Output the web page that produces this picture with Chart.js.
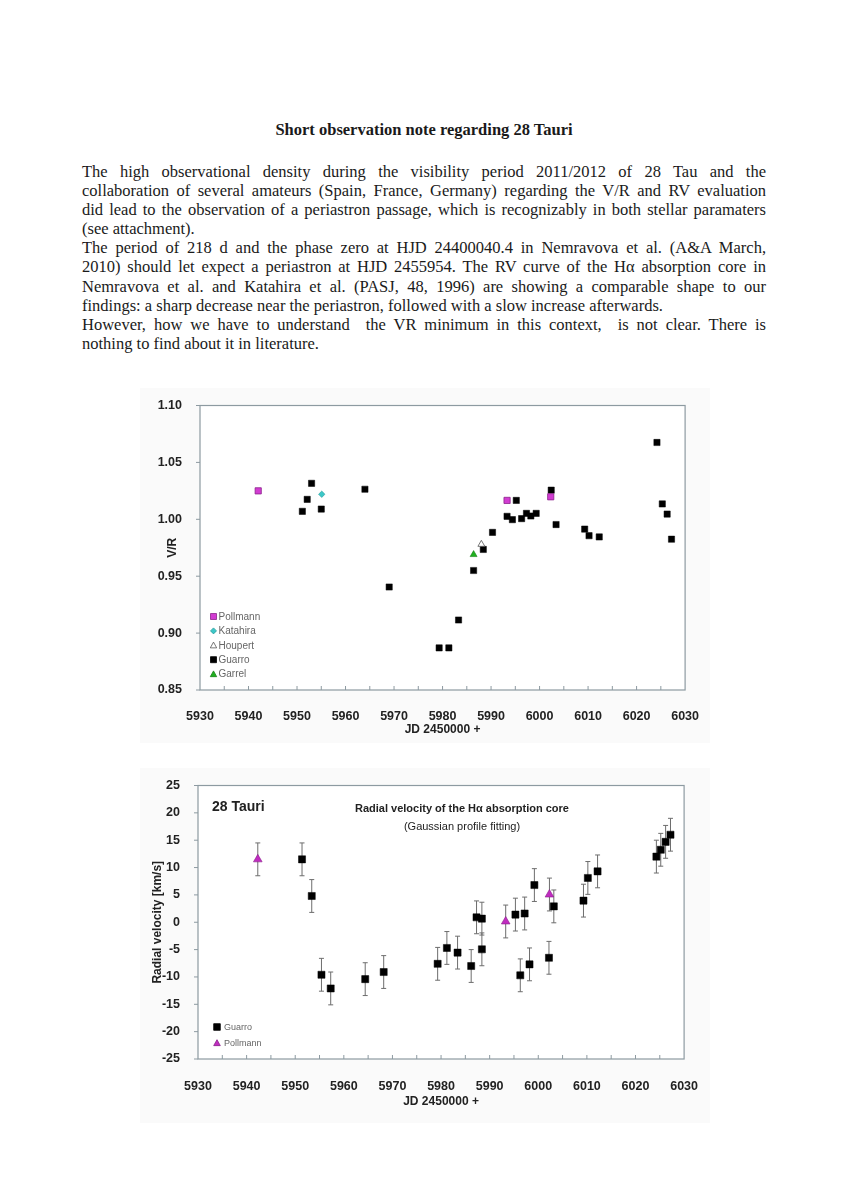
<!DOCTYPE html>
<html>
<head>
<meta charset="utf-8">
<script src="https://cdn.jsdelivr.net/npm/chart.js@4.4.1/dist/chart.umd.min.js"></script>
<style>
  html, body { margin: 0; padding: 0; background: #fff; }
  body { width: 848px; height: 1200px; position: relative; overflow: hidden; }
  #title {
    position: absolute; left: 0; width: 848px; top: 120px;
    text-align: center; font: bold 16.5px "Liberation Serif", serif; color: #1a1a1a;
    line-height: 20px;
  }
  #note {
    position: absolute; left: 82px; width: 684px; top: 162px;
    font: 16.5px "Liberation Serif", serif; color: #1a1a1a; line-height: 19.1px;
  }
  #note .j { text-align: justify; text-align-last: justify; }
  canvas { position: absolute; background: #fafafa; }
  #vr { left: 140px; top: 388px; }
  #rv { left: 140px; top: 768px; }
</style>
</head>
<body>
<div id="title">Short observation note regarding 28 Tauri</div>
<div id="note">
  <div class="j">The high observational density during the visibility period 2011/2012 of 28 Tau and the</div>
  <div class="j">collaboration of several amateurs (Spain, France, Germany) regarding the V/R and RV evaluation</div>
  <div class="j">did lead to the observation of a periastron passage, which is recognizably in both stellar paramaters</div>
  <div>(see attachment).</div>
  <div class="j">The period of 218 d and the phase zero at HJD 24400040.4 in Nemravova et al. (A&amp;A March,</div>
  <div class="j">2010) should let expect a periastron at HJD 2455954. The RV curve of the Hα absorption core in</div>
  <div class="j">Nemravova et al. and Katahira et al. (PASJ, 48, 1996) are showing a comparable shape to our</div>
  <div>findings: a sharp decrease near the periastron, followed with a slow increase afterwards.</div>
  <div class="j">However, how we have to understand &nbsp;the VR minimum in this context, &nbsp;is not clear. There is</div>
  <div>nothing to find about it in literature.</div>
</div>

<canvas id="vr" width="570" height="355"></canvas>
<canvas id="rv" width="570" height="355"></canvas>

<script>
// ---- V/R chart data (JD - 2450000) ----
const vrPollmannJD = [5942.0, 5993.3, 6002.3];
const vrPollmann   = [1.025, 1.0166, 1.0198];
const vrKatahiraJD = [5955.1];
const vrKatahira   = [1.022];
const vrHoupertJD  = [5988.0];
const vrHoupert    = [0.978];
const vrGuarroJD = [5951.1, 5952.1, 5953.0, 5955.0, 5964.0, 5969.0, 5979.3, 5981.3, 5983.3, 5986.4,
                    5988.4, 5990.3, 5993.3, 5994.4, 5995.2, 5996.3, 5997.3, 5998.2, 5999.3, 6002.4,
                    6003.4, 6009.3, 6010.2, 6012.3, 6024.2, 6025.3, 6026.3, 6027.2];
const vrGuarro   = [1.007, 1.0175, 1.0316, 1.009, 1.0264, 0.9405, 0.887, 0.887, 0.9115, 0.955,
                    0.9735, 0.9885, 1.0026, 0.9997, 1.0166, 1.0006, 1.0052, 1.0029, 1.0052, 1.0256,
                    0.9954, 0.9914, 0.9856, 0.9845, 1.0675, 1.0135, 1.0046, 0.9825];
const vrGarrelJD = [5986.4];
const vrGarrel   = [0.969];

// ---- radial velocity chart data (km/s) ----
const rvGuarroJD = [5951.4, 5953.4, 5955.4, 5957.3, 5964.4, 5968.2, 5979.3, 5981.2, 5983.4, 5986.2,
                    5987.3, 5988.4, 5988.4, 5995.3, 5996.3, 5997.2, 5998.2, 5999.2, 6002.2, 6003.2,
                    6009.3, 6010.2, 6012.2, 6024.3, 6025.2, 6026.2, 6027.2];
const rvGuarro   = [11.5, 4.8, -9.6, -12.1, -10.4, -9.1, -7.6, -4.7, -5.55, -8.0,
                    0.9, 0.66, -4.95, 1.4, -9.7, 1.6, -7.7, 6.8, -6.5, 2.9,
                    3.95, 8.1, 9.3, 12.0, 13.25, 14.7, 16.0];
const rvGuarroErr = [3, 3, 3, 3, 3, 3, 3, 3, 3, 3,
                     3, 3, 3, 3, 3, 3, 3, 3, 3, 3,
                     3, 3, 3, 3, 3, 3, 3];
const rvPollmannJD  = [5942.3, 5993.3, 6002.3];
const rvPollmann    = [11.5, 0.14, 5.07];
const rvPollmannErr = [3, 3, 3];

const jdTicks = [5930, 5940, 5950, 5960, 5970, 5980, 5990, 6000, 6010, 6020, 6030];

const FONT = '"Liberation Sans", Arial, sans-serif';
const FRAME = '#8d9aa1';

function pts(xs, ys) {
  return xs.map((x, i) => ({x: x, y: ys[i]}));
}

function marker(ctx, style, x, y, r, fill, stroke) {
  ctx.save();
  ctx.fillStyle = fill;
  ctx.strokeStyle = stroke;
  ctx.lineWidth = 0.8;
  ctx.beginPath();
  if (style === 'rect') {
    ctx.rect(x - r, y - r, 2 * r, 2 * r);
  } else if (style === 'rectRot') {
    ctx.moveTo(x, y - r); ctx.lineTo(x + r, y); ctx.lineTo(x, y + r); ctx.lineTo(x - r, y);
    ctx.closePath();
  } else {
    ctx.moveTo(x, y - r); ctx.lineTo(x + r, y + r * 0.8); ctx.lineTo(x - r, y + r * 0.8);
    ctx.closePath();
  }
  ctx.fill();
  ctx.stroke();
  ctx.restore();
}

// white plot area, frame, tick marks, error bars, legend and notes
const decor = {
  id: 'decor',
  beforeDatasetsDraw(chart) {
    const {ctx, chartArea: a, scales} = chart;
    ctx.save();
    ctx.fillStyle = '#fff';
    ctx.fillRect(a.left, a.top, a.width, a.height);
    ctx.strokeStyle = FRAME;
    ctx.lineWidth = 1.2;
    ctx.strokeRect(a.left, a.top, a.width, a.height);
    ctx.lineWidth = 1;
    ctx.beginPath();
    for (let v = 5935; v < 6030; v += 5) {
      const px = scales.x.getPixelForValue(v);
      ctx.moveTo(px, a.bottom); ctx.lineTo(px, a.bottom - 4);
    }
    scales.y.ticks.forEach(t => {
      const py = scales.y.getPixelForValue(t.value);
      ctx.moveTo(a.left, py); ctx.lineTo(a.left - 4, py);
    });
    ctx.stroke();

    // error bars
    ctx.strokeStyle = '#6d6d6d';
    ctx.lineWidth = 1;
    chart.data.datasets.forEach(ds => {
      if (!ds.errors) return;
      ds.data.forEach((p, i) => {
        const px = scales.x.getPixelForValue(p.x);
        const y1 = scales.y.getPixelForValue(p.y + ds.errors[i]);
        const y2 = scales.y.getPixelForValue(p.y - ds.errors[i]);
        ctx.beginPath();
        ctx.moveTo(px, y1); ctx.lineTo(px, y2);
        ctx.moveTo(px - 2.5, y1); ctx.lineTo(px + 2.5, y1);
        ctx.moveTo(px - 2.5, y2); ctx.lineTo(px + 2.5, y2);
        ctx.stroke();
      });
    });
    ctx.restore();
  },
  afterDatasetsDraw(chart) {
    const {ctx, chartArea: a} = chart;
    const o = chart.options.plugins.decor;
    ctx.save();
    // legend
    ctx.font = o.legendSize + 'px ' + FONT;
    ctx.textBaseline = 'middle';
    chart.data.datasets.forEach((ds, i) => {
      const y = a.bottom - o.legendBottom + i * o.legendStep;
      const x = a.left + o.legendLeft;
      marker(ctx, ds.pointStyle, x, y, ds.legendR, ds.backgroundColor, ds.borderColor);
      ctx.fillStyle = '#666';
      ctx.fillText(ds.label, x + o.legendGap, y + 0.5);
    });
    // notes
    (o.notes || []).forEach(n => {
      ctx.font = n.font;
      ctx.fillStyle = '#222';
      ctx.textAlign = n.align;
      ctx.fillText(n.text, a.left + n.dx, a.top + n.dy);
    });
    ctx.restore();
  }
};

function axes(yMin, yMax, yStep, yTitle, yFmt, dims) {
  return {
    x: {
      type: 'linear', min: 5930, max: 6030,
      afterBuildTicks: s => { s.ticks = jdTicks.map(v => ({value: v})); },
      afterFit: s => { s.height = dims.xh; },
      grid: {display: false},
      border: {display: false},
      ticks: {color: '#222', padding: dims.xpad, maxRotation: 0,
              callback: v => String(v),
              font: {family: FONT, size: 12.5, weight: 'bold'}},
      title: {display: true, text: 'JD 2450000 +', color: '#222',
              padding: {top: 0, bottom: dims.xtb},
              font: {family: FONT, size: 12, weight: 'bold'}}
    },
    y: {
      min: yMin, max: yMax,
      afterFit: s => { s.width = dims.yw; },
      grid: {display: false},
      border: {display: false},
      ticks: {stepSize: yStep, color: '#222', padding: 10,
              callback: yFmt,
              font: {family: FONT, size: 12.5, weight: 'bold'}},
      title: {display: true, text: yTitle, color: '#222',
              padding: {top: dims.ytp, bottom: 0},
              font: {family: FONT, size: 12, weight: 'bold'}}
    }
  };
}

function drawVR() {
  new Chart('vr', {
    type: 'scatter',
    data: {
      datasets: [
        {label: 'Pollmann', data: pts(vrPollmannJD, vrPollmann), pointStyle: 'rect',
         backgroundColor: '#d23cd2', borderColor: '#8b238b', borderWidth: 0.8, pointRadius: 4.4, legendR: 3},
        {label: 'Katahira', data: pts(vrKatahiraJD, vrKatahira), pointStyle: 'rectRot',
         backgroundColor: '#3cc8c8', borderColor: '#2a9a9a', borderWidth: 0.6, pointRadius: 3.2, legendR: 3},
        {label: 'Houpert', data: pts(vrHoupertJD, vrHoupert), pointStyle: 'triangle',
         backgroundColor: '#ffffff', borderColor: '#555555', borderWidth: 0.8, pointRadius: 4, legendR: 3.2},
        {label: 'Guarro', data: pts(vrGuarroJD, vrGuarro), pointStyle: 'rect',
         backgroundColor: '#000000', borderColor: '#000000', borderWidth: 0.5, pointRadius: 4.4, legendR: 3},
        {label: 'Garrel', data: pts(vrGarrelJD, vrGarrel), pointStyle: 'triangle',
         backgroundColor: '#1fb01f', borderColor: '#168016', borderWidth: 0.6, pointRadius: 4, legendR: 3.2}
      ]
    },
    options: {
      responsive: false,
      animation: false,
      layout: {padding: {left: 0, right: 21, top: 12, bottom: 0}},
      scales: axes(0.85, 1.10, 0.05, 'V/R', v => v.toFixed(2),
                   {xh: 53, xpad: 11, xtb: 6, yw: 60, ytp: 25}),
      plugins: {
        legend: {display: false},
        tooltip: {enabled: false},
        decor: {legendSize: 10, legendLeft: 13.5, legendBottom: 73.5, legendStep: 14.4, legendGap: 5, notes: []}
      }
    },
    plugins: [decor]
  });
}

function drawRV() {
  new Chart('rv', {
    type: 'scatter',
    data: {
      datasets: [
        {label: 'Guarro', data: pts(rvGuarroJD, rvGuarro), errors: rvGuarroErr, pointStyle: 'rect',
         backgroundColor: '#000000', borderColor: '#000000', borderWidth: 0.5, pointRadius: 5, legendR: 3.3},
        {label: 'Pollmann', data: pts(rvPollmannJD, rvPollmann), errors: rvPollmannErr, pointStyle: 'triangle',
         backgroundColor: '#c02cc0', borderColor: '#8a1f8a', borderWidth: 0.6, pointRadius: 5, legendR: 3.3}
      ]
    },
    options: {
      responsive: false,
      animation: false,
      layout: {padding: {left: 0, right: 20, top: 10, bottom: 0}},
      scales: axes(-25, 25, 5, 'Radial velocity [km/s]', v => String(v),
                   {xh: 64, xpad: 12, xtb: 14, yw: 58, ytp: 10}),
      plugins: {
        legend: {display: false},
        tooltip: {enabled: false},
        decor: {
          legendSize: 9, legendLeft: 19, legendBottom: 32, legendStep: 16, legendGap: 7,
          notes: [
            {text: '28 Tauri', font: 'bold 14px ' + FONT, align: 'left', dx: 14, dy: 22},
            {text: 'Radial velocity of the Hα absorption core', font: 'bold 11px ' + FONT, align: 'center', dx: 264, dy: 23},
            {text: '(Gaussian profile fitting)', font: '11px ' + FONT, align: 'center', dx: 264, dy: 41}
          ]
        }
      }
    },
    plugins: [decor]
  });
}

drawVR();
drawRV();
</script>
</body>
</html>
